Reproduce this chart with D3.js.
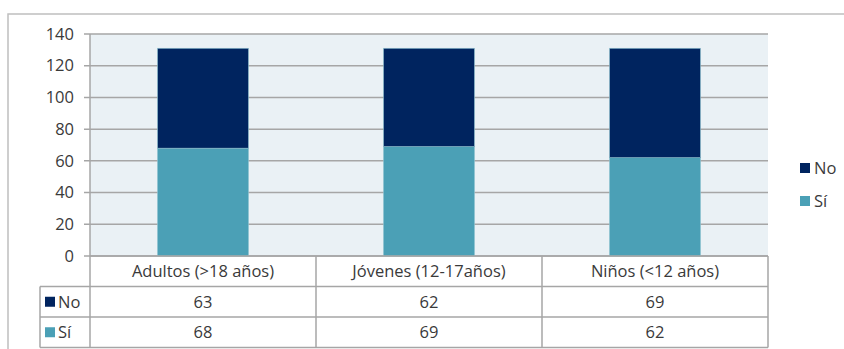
<!DOCTYPE html>
<html><head><meta charset="utf-8">
<script src="https://cdn.jsdelivr.net/npm/d3@7"></script>
<style>body{margin:0;background:#fff}svg{display:block}text{font-family:"Open Sans",sans-serif;fill:#3a3a3a}</style>
</head><body><svg id="c" width="844" height="349"></svg>
<script>
const categories = ["Adultos (>18 años)", "Jóvenes (12-17años)", "Niños (<12 años)"];
const seriesNames = ["No", "Sí"];
const noValues = [63, 62, 69];
const siValues = [68, 69, 62];
const yTicks = [0, 20, 40, 60, 80, 100, 120, 140];
const colors = {"No": "#00245F", "Sí": "#4BA0B6"};

const svg = d3.select("#c");
const L = 90, R = 768, T = 34, B = 256;
const rowH = 30.5;
const fs = 16.5;

// outer border
svg.append("rect").attr("x", 8).attr("y", 14).attr("width", 900).attr("height", 400)
  .attr("fill", "none").attr("stroke", "#BFBFBF").attr("stroke-width", 1.5);

const x = d3.scaleBand().domain(categories).range([L, R]).paddingInner(0).paddingOuter(0);
const y = d3.scaleLinear().domain([0, 140]).range([B, T]);

svg.append("rect").attr("x", L).attr("y", T).attr("width", R - L).attr("height", B - T).attr("fill", "#EAF1F5");

// gridlines
svg.append("g").selectAll("line").data(yTicks).join("line")
  .attr("x1", L - 6).attr("x2", R).attr("y1", d => y(d)).attr("y2", d => y(d))
  .attr("stroke", "#A6A6A6").attr("stroke-width", 1.5);

// y axis line
svg.append("line").attr("x1", L).attr("x2", L).attr("y1", T).attr("y2", B).attr("stroke", "#A6A6A6").attr("stroke-width", 1.5);

// y labels
svg.append("g").selectAll("text").data(yTicks).join("text")
  .attr("x", 74).attr("y", d => y(d)).attr("dy", "0.35em").attr("text-anchor", "end")
  .attr("font-size", fs).text(d => d);

// stacked bars
const data = categories.map((c, i) => ({cat: c, "Sí": siValues[i], "No": noValues[i]}));
const stack = d3.stack().keys(["Sí", "No"])(data);
const bw = 91;
svg.append("g").selectAll("g").data(stack).join("g").attr("fill", d => colors[d.key])
  .selectAll("rect").data(d => d).join("rect")
  .attr("x", d => x(d.data.cat) + (x.bandwidth() - bw) / 2)
  .attr("width", bw)
  .attr("y", d => y(d[1])).attr("height", d => y(d[0]) - y(d[1]))
  .attr("stroke", "#8FC3D0").attr("stroke-width", 0.6);

// data table
const tg = svg.append("g");
const tableLeft = 40;
const lineC = "#A6A6A6";
[B + rowH, B + 2 * rowH, B + 3 * rowH].forEach(yy => tg.append("line").attr("x1", tableLeft).attr("x2", R).attr("y1", yy).attr("y2", yy).attr("stroke", lineC).attr("stroke-width", 1.5));
tg.append("line").attr("x1", L).attr("x2", R).attr("y1", B).attr("y2", B).attr("stroke", lineC).attr("stroke-width", 1.5);
tg.append("line").attr("x1", tableLeft).attr("x2", tableLeft).attr("y1", B + rowH).attr("y2", B + 3 * rowH).attr("stroke", lineC).attr("stroke-width", 1.5);
[L, ...categories.map(c => x(c) + x.bandwidth())].forEach(xx => tg.append("line").attr("x1", xx).attr("x2", xx).attr("y1", B).attr("y2", B + 3 * rowH).attr("stroke", lineC).attr("stroke-width", 1.5));
// header
tg.selectAll(".hdr").data(categories).join("text").attr("class", "hdr")
  .attr("x", d => x(d) + x.bandwidth() / 2).attr("y", B + rowH / 2).attr("dy", "0.35em")
  .attr("text-anchor", "middle").attr("font-size", fs).text(d => d);
// rows
const rows = [{name: "No", vals: noValues}, {name: "Sí", vals: siValues}];
rows.forEach((r, ri) => {
  const cy = B + rowH * (ri + 1.5);
  tg.append("rect").attr("x", 45).attr("y", cy - 5).attr("width", 10).attr("height", 10).attr("fill", colors[r.name]);
  tg.append("text").attr("x", 58).attr("y", cy).attr("dy", "0.35em").attr("font-size", fs).text(r.name);
  tg.selectAll(".v" + ri).data(r.vals).join("text").attr("class", "v" + ri)
    .attr("x", (d, i) => x(categories[i]) + x.bandwidth() / 2).attr("y", cy).attr("dy", "0.35em")
    .attr("text-anchor", "middle").attr("font-size", fs).text(d => d);
});

// legend
seriesNames.forEach((s, i) => {
  const ly = 168 + i * 33;
  svg.append("rect").attr("x", 800).attr("y", ly - 5).attr("width", 10).attr("height", 10).attr("fill", colors[s]);
  svg.append("text").attr("x", 814).attr("y", ly).attr("dy", "0.35em").attr("font-size", fs).text(s);
});
</script></body></html>
